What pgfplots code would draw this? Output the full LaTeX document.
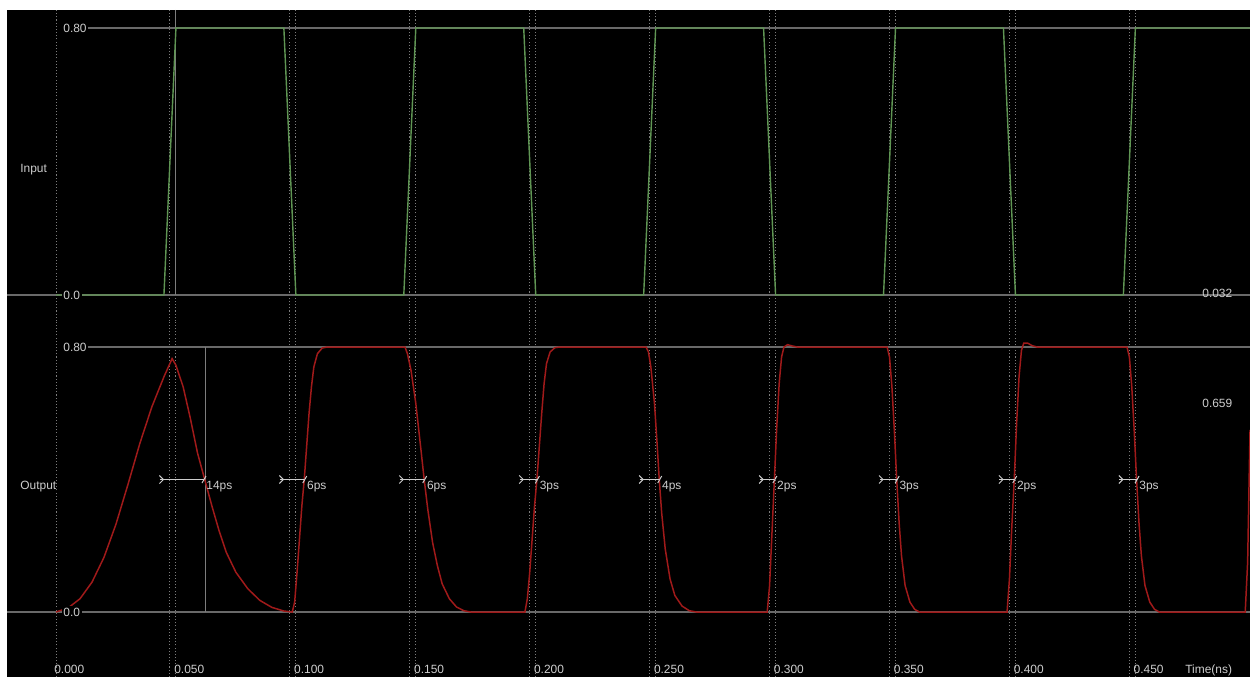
\documentclass[border=0pt]{standalone}
\usepackage{fontspec}
\setmainfont{Liberation Sans}
\usepackage{pgfplots}
\pgfplotsset{compat=1.18}

\definecolor{sigin}{RGB}{96,150,84}
\definecolor{sigout}{RGB}{160,26,26}
\definecolor{gridc}{RGB}{125,125,125}
\definecolor{refc}{RGB}{105,105,105}
\definecolor{txt}{RGB}{205,205,205}

% one panel of the scope; 1 px = 0.02 cm
\pgfplotsset{
  panel/.style={
    scale only axis, width=24.86cm,
    xmin=-0.020429, xmax=0.49779,
    axis line style={draw=none}, tick style={draw=none},
    xtick={0,0.05,0.1,0.15,0.2,0.25,0.3,0.35,0.4,0.45},
    extra x ticks={0.0475,0.0975,0.1475,0.1975,0.2475,0.2975,0.3475,0.3975,0.4475},
    extra x tick labels={},
    extra x tick style={grid=major},
    ytick=\empty,
    xmajorgrids,
    major grid style={gridc, line width=0.5pt, dash pattern=on 0.6pt off 1.2pt},
    every axis plot/.append style={no markers},
  },
}

% delay marker: input crossing, output crossing, text
\newcommand\mk[3]{%
  \draw[txt, line width=0.55pt] ([xshift=-0.2cm]axis cs:#1,0.4) -- (axis cs:#2,0.4);
  \draw[txt, line width=0.55pt] ([xshift=-0.21cm,yshift=0.08cm]axis cs:#1,0.4) -- ([xshift=-0.13cm]axis cs:#1,0.4)
     -- ([xshift=-0.21cm,yshift=-0.08cm]axis cs:#1,0.4);
  \draw[txt, line width=0.55pt] ([xshift=-0.03cm,yshift=-0.07cm]axis cs:#2,0.4) -- ([xshift=0.05cm,yshift=0.07cm]axis cs:#2,0.4);
  \node[anchor=north west, inner sep=0pt, text=txt] at ([xshift=0.05cm,yshift=-0.03cm]axis cs:#2,0.4) {#3};
}

\begin{document}
\begin{tikzpicture}[font=\fontsize{6.8}{8}\selectfont]
\fill[white] (0,0) rectangle (25,-13.54);
\fill[black] (0.14,-0.2) rectangle (25,-13.54);

% ---------------- Input ----------------
\begin{axis}[panel, at={(0.14cm,-0.2cm)}, anchor=north west,
  height=6.22cm, ymin=-0.0779, ymax=0.85393, xticklabels={}]
\draw[refc, line width=0.9pt] (axis cs:0.0121,0.8) -- (axis cs:0.49779,0.8);
\draw[refc, line width=0.9pt] (axis cs:-0.020429,0) -- (axis cs:0.49779,0);
\draw[gridc, line width=0.5pt] (axis cs:0.0496,0.85393) -- (axis cs:0.0496,0);
\addplot[sigin, line width=0.8pt] coordinates {
  (0,0) (0.045,0) (0.05,0.8) (0.095,0.8) (0.1,0) (0.145,0) (0.15,0.8)
  (0.195,0.8) (0.2,0) (0.245,0) (0.25,0.8) (0.295,0.8) (0.3,0) (0.345,0)
  (0.35,0.8) (0.395,0.8) (0.4,0) (0.445,0) (0.45,0.8) (0.4978,0.8)
};
\node[anchor=west, fill=black, inner sep=1pt, text=txt] at (axis cs:0.0022,0.8) {0.80};
\node[anchor=west, fill=black, inner sep=1pt, text=txt] at (axis cs:0.0022,0) {0.0};
\end{axis}

% ---------------- Output ----------------
\begin{axis}[panel, at={(0.14cm,-6.42cm)}, anchor=north west,
  height=7.12cm, ymin=-0.19623, ymax=0.87849,
  xticklabels={0.000,0.050,0.100,0.150,0.200,0.250,0.300,0.350,0.400,0.450},
  xticklabel style={anchor=base west, inner sep=0pt, yshift=0.08cm, xshift=-0.04cm, text=txt}]
\draw[refc, line width=0.9pt] (axis cs:0.0121,0.8) -- (axis cs:0.49779,0.8);
\draw[refc, line width=0.9pt] (axis cs:-0.020429,0) -- (axis cs:0.49779,0);
\draw[gridc, line width=0.5pt] (axis cs:0.0621,0.8) -- (axis cs:0.0621,0);
\addplot[sigout, line width=0.85pt] coordinates {
  (0,0) (0.005,0.012) (0.01,0.04) (0.015,0.09) (0.02,0.165) (0.025,0.265)
  (0.03,0.385) (0.035,0.51) (0.04,0.62) (0.045,0.71) (0.0484,0.765)
  (0.050,0.745) (0.053,0.68) (0.056,0.585) (0.059,0.48) (0.062,0.40)
  (0.065,0.32) (0.068,0.245) (0.071,0.18) (0.075,0.12) (0.08,0.07)
  (0.085,0.035) (0.09,0.014) (0.095,0.003) (0.0985,0)
  (0.0995,0.03) (0.1005,0.12) (0.1015,0.22) (0.1025,0.32) (0.1035,0.40)
  (0.1045,0.50) (0.1055,0.60) (0.1065,0.68) (0.1075,0.74) (0.109,0.78)
  (0.111,0.797) (0.113,0.8) (0.1455,0.8)
  (0.1465,0.78) (0.148,0.73) (0.150,0.63) (0.152,0.50) (0.1535,0.40)
  (0.155,0.31) (0.157,0.21) (0.159,0.14) (0.161,0.085) (0.164,0.04)
  (0.167,0.015) (0.170,0.004) (0.173,0) (0.1955,0)
  (0.1965,0.04) (0.1975,0.12) (0.1985,0.22) (0.1995,0.32) (0.2005,0.40)
  (0.2015,0.50) (0.2025,0.60) (0.2035,0.69) (0.2045,0.75) (0.206,0.785)
  (0.208,0.798) (0.21,0.8) (0.246,0.8)
  (0.247,0.785) (0.248,0.74) (0.2495,0.63) (0.2505,0.52) (0.2515,0.40)
  (0.2525,0.30) (0.254,0.19) (0.256,0.10) (0.258,0.05) (0.261,0.018)
  (0.264,0.004) (0.267,0) (0.2965,0)
  (0.2975,0.08) (0.2985,0.24) (0.2995,0.40) (0.3005,0.56) (0.3015,0.69)
  (0.3025,0.77) (0.3035,0.8) (0.305,0.807) (0.307,0.803) (0.309,0.8) (0.3465,0.8)
  (0.3475,0.77) (0.3485,0.68) (0.3495,0.55) (0.3505,0.40) (0.3515,0.27)
  (0.3525,0.17) (0.354,0.08) (0.356,0.03) (0.358,0.008) (0.36,0) (0.3965,0)
  (0.3975,0.10) (0.3985,0.26) (0.3995,0.40) (0.4005,0.57) (0.4015,0.71)
  (0.4025,0.79) (0.4035,0.812) (0.405,0.812) (0.407,0.804) (0.409,0.8) (0.4465,0.8)
  (0.4475,0.77) (0.4485,0.68) (0.4495,0.55) (0.4505,0.40) (0.4515,0.27)
  (0.4525,0.17) (0.454,0.08) (0.456,0.03) (0.458,0.008) (0.46,0) (0.4958,0)
  (0.4968,0.15) (0.4978,0.55)
};
\mk{0.0475}{0.0615}{14ps}
\mk{0.0975}{0.1035}{6ps}
\mk{0.1475}{0.1535}{6ps}
\mk{0.1975}{0.2005}{3ps}
\mk{0.2475}{0.2515}{4ps}
\mk{0.2975}{0.2995}{2ps}
\mk{0.3475}{0.3505}{3ps}
\mk{0.3975}{0.3995}{2ps}
\mk{0.4475}{0.4505}{3ps}
\node[anchor=west, fill=black, inner sep=1pt, text=txt] at (axis cs:0.0022,0.8) {0.80};
\node[anchor=west, fill=black, inner sep=1pt, text=txt] at (axis cs:0.0022,0) {0.0};
\end{axis}

\node[anchor=west, inner sep=0pt, text=txt] at (0.4,-3.4) {Input};
\node[anchor=west, inner sep=0pt, text=txt] at (0.4,-9.74) {Output};
\node[anchor=west, inner sep=0pt, text=txt] at (24.04,-5.86) {0.032};
\node[anchor=west, inner sep=0pt, text=txt] at (24.04,-8.06) {0.659};
\node[anchor=base west, inner sep=0pt, text=txt] at (23.7,-13.46) {Time(ns)};

\pgfresetboundingbox
\useasboundingbox (0,0) rectangle (25,-13.54);
\end{tikzpicture}
\end{document}
